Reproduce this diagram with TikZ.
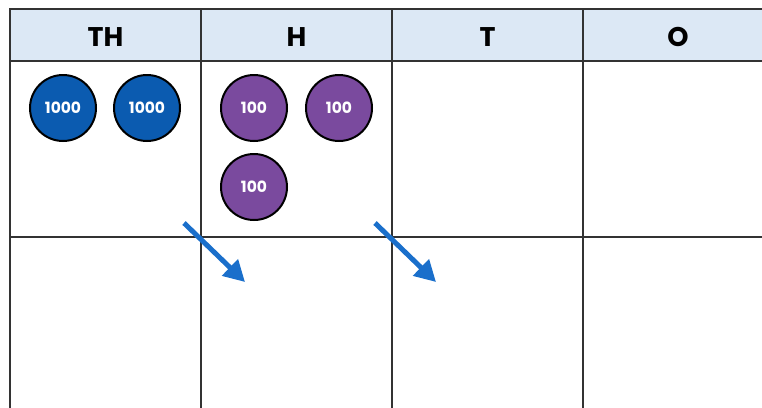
\documentclass[tikz,border=0pt]{standalone}
\usepackage{fontspec}
\setmainfont{Poppins}
\usetikzlibrary{arrows.meta}
\definecolor{headfill}{HTML}{DCE8F5}
\definecolor{gridline}{HTML}{333333}
\definecolor{thblue}{HTML}{0B5BB0}
\definecolor{hpurple}{HTML}{7A4A9E}
\definecolor{arrowblue}{HTML}{1A6FCB}
\tikzset{
  grid/.style={draw=gridline, line width=1.4pt},
  headlabel/.style={font=\fontsize{27}{27}\selectfont\bfseries, text=black},
  counter/.style={circle, draw=black, line width=2pt, minimum size=66pt, inner sep=0pt,
    text=white, font=\fontsize{15.5}{15.5}\selectfont\bfseries},
  thcounter/.style={counter, fill=thblue},
  hcounter/.style={counter, fill=hpurple},
  exchange/.style={draw=arrowblue, line width=5pt, -{Triangle[length=21pt,width=22pt]}}
}
\begin{document}
\begin{tikzpicture}[x=1pt,y=-1pt]
  \useasboundingbox (0,0) rectangle (762,407);
  % header band
  \fill[headfill] (10,9) rectangle (770,61);
  % table lines
  \draw[grid] (770,9) -- (10,9) -- (10,415);
  \draw[grid] (10,61) -- (770,61);
  \draw[grid] (10,237) -- (770,237);
  \draw[grid] (201,9) -- (201,415);
  \draw[grid] (392,9) -- (392,415);
  \draw[grid] (583,9) -- (583,415);
  % column headings
  \node[headlabel] (hTH) at (105.5,37) {TH};
  \node[headlabel] (hH) at (296.5,37) {H};
  \node[headlabel] (hT) at (487.5,37) {T};
  \node[headlabel] (hO) at (678,37) {O};
  % place-value counters
  \node[thcounter] (th1) at (63,108) {1000};
  \node[thcounter] (th2) at (147,108) {1000};
  \node[hcounter] (h1) at (254,108) {100};
  \node[hcounter] (h2) at (339,108) {100};
  \node[hcounter] (h3) at (254,187) {100};
  % exchange arrows
  \coordinate (a1s) at (184,223);
  \coordinate (a1e) at (245,282);
  \coordinate (a2s) at (375,223);
  \coordinate (a2e) at (436,282);
  \draw[exchange] (a1s) -- (a1e);
  \draw[exchange] (a2s) -- (a2e);
\end{tikzpicture}
\end{document}
